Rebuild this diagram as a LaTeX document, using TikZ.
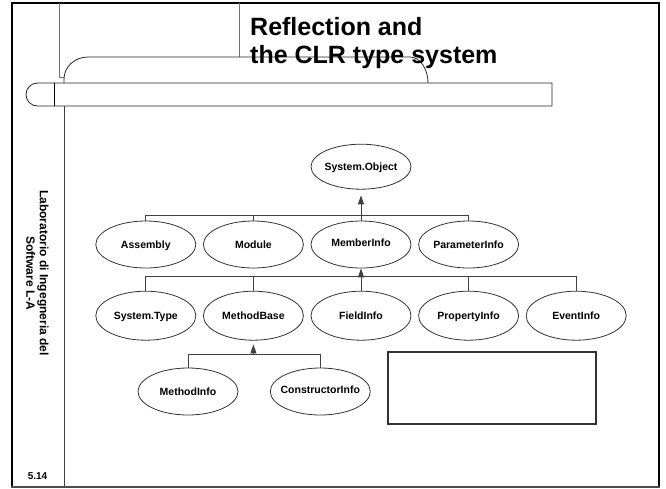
\documentclass[tikz,border=0pt]{standalone}
\usepackage{fontspec}
\setmainfont{Liberation Sans}
\usetikzlibrary{shapes.geometric,arrows.meta}
\begin{document}
\begin{tikzpicture}[x=1pt,y=-1pt,
  cls/.style={ellipse,draw=black!80,line width=0.8pt,minimum width=100pt,inner sep=0pt,
    text height=7.5pt,text depth=0pt,font=\fontsize{10.5}{12}\selectfont\bfseries},
  conn/.style={draw=black!75,line width=0.9pt},
  inh/.style={conn,-{Triangle[length=9pt,width=6pt]}},
  thin/.style={draw=black!85,line width=0.8pt},
  faint/.style={draw=black!55,line width=0.6pt}
]
\useasboundingbox (0,0) rectangle (666,488);
% frame
\draw[line width=2.4pt] (11.8,486.5) -- (11.8,2.9) -- (658.8,2.9) -- (658.8,486.5);
\draw[line width=1.4pt,black!70] (10.6,486.8) -- (660,486.8);
% header decorations
\draw[faint] (59,3) -- (59,77.3) -- (64,77.3);
\draw[faint] (239,3) -- (239,57);
\draw[thin] (64,83) -- (64,79) arc[start angle=180,end angle=270,x radius=24,y radius=22]
  -- (410,57) arc[start angle=270,end angle=360,x radius=18,y radius=26];
\draw[thin] (54,83) -- (552,83) -- (552,106) -- (37.5,106)
  arc[start angle=90,end angle=270,radius=11.5] -- (54,83);
\draw[line width=0.9pt] (54,83) -- (54,106);
\draw[draw=black!75,line width=0.7pt] (64,106) -- (64,486);
% title
\node[anchor=base west,inner sep=0pt,font=\fontsize{25}{28}\selectfont\bfseries] (t1) at (250,35) {Reflection and};
\node[anchor=base west,inner sep=0pt,font=\fontsize{25}{28}\selectfont\bfseries] (t2) at (250,63.3) {the CLR type system};
% sidebar
\node[rotate=-90,align=center,font=\fontsize{12}{13.5}\selectfont\bfseries] (side) at (37.5,273)
  {Laboratorio di Ingegneria del\\Software L-A};
\node[font=\fontsize{10}{12}\selectfont\bfseries] (pg) at (37.5,476) {5.14};
% classes
\node[cls,minimum height=45pt] (so) at (361,166.7) {\makebox[0pt]{System.Object}};
\node[cls,minimum height=47pt] (asm) at (145.8,244.5) {\makebox[0pt]{Assembly}};
\node[cls,minimum height=47pt] (mod) at (253.4,244.5) {\makebox[0pt]{Module}};
\node[cls,minimum height=47pt] (mem) at (361,244.5) {\makebox[0pt]{\raisebox{1.5pt}{MemberInfo}}};
\node[cls,minimum height=47pt] (par) at (468.6,244.5) {\makebox[0pt]{ParameterInfo}};
\node[cls,minimum height=49pt] (typ) at (145.8,315.7) {\makebox[0pt]{System.Type}};
\node[cls,minimum height=49pt] (mb) at (253.4,315.7) {\makebox[0pt]{MethodBase}};
\node[cls,minimum height=49pt] (fld) at (361,315.7) {\makebox[0pt]{FieldInfo}};
\node[cls,minimum height=49pt] (prop) at (468.6,315.7) {\makebox[0pt]{PropertyInfo}};
\node[cls,minimum height=49pt] (evt) at (576.2,315.7) {\makebox[0pt]{EventInfo}};
\node[cls,minimum height=47pt] (mi) at (188,391.5) {\makebox[0pt]{MethodInfo}};
\node[cls,minimum height=47pt] (ci) at (320.3,391.5) {\makebox[0pt]{\raisebox{1.5pt}{ConstructorInfo}}};
% empty box
\node[draw=black!80,line width=1.1pt,minimum width=208pt,minimum height=72pt,inner sep=0pt] (box) at (492,388) {};
% connectors
\coordinate (b1) at (361,215);
\coordinate (b2) at (361,276);
\coordinate (b3) at (253.4,354);
\draw[conn] (asm.north) |- (b1);
\draw[conn] (mod.north) |- (b1);
\draw[conn] (mem.north) -- (b1);
\draw[conn] (par.north) |- (b1);
\draw[inh,shorten >=5.8pt] (b1) -- (so.south);
\draw[conn] (typ.north) |- (b2);
\draw[conn] (mb.north) |- (b2);
\draw[conn] (fld.north) -- (b2);
\draw[conn] (prop.north) |- (b2);
\draw[conn] (evt.north) |- (b2);
\draw[inh] (b2) -- (mem.south);
\draw[conn] (mi.north) |- (b3);
\draw[conn] (ci.north) |- (b3);
\draw[inh,shorten >=3.8pt] (b3) -- (mb.south);
\end{tikzpicture}
\end{document}
